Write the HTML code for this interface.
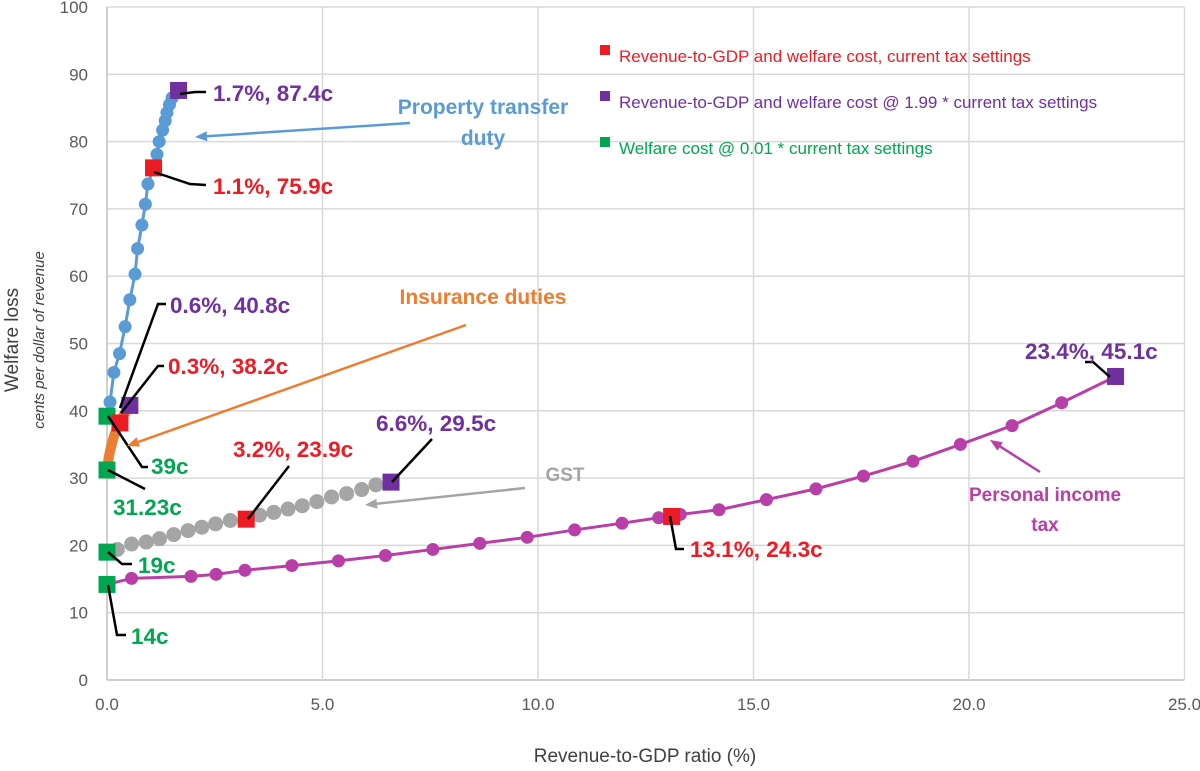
<!DOCTYPE html>
<html><head><meta charset="utf-8"><style>
html,body{margin:0;padding:0;background:#fff;}
svg{display:block;font-family:"Liberation Sans",sans-serif;}
</style></head><body>
<svg id="chart" width="1200" height="771" viewBox="0 0 1200 771">
<g id="grid"></g>
<g id="ticks"></g>
<g id="series"></g>
<g id="ann"></g>
<text x="18" y="340" transform="rotate(-90 18 340)" text-anchor="middle" font-size="19" fill="#404040">Welfare loss</text>
<text x="44" y="340" transform="rotate(-90 44 340)" text-anchor="middle" font-size="15" font-style="italic" fill="#404040">cents per dollar of revenue</text>
<text x="645" y="762" text-anchor="middle" font-size="19" fill="#404040">Revenue-to-GDP ratio (%)</text>
<g>
<rect x="600" y="45" width="10" height="10" fill="#ed1c24"/>
<text x="619" y="62" font-size="17" fill="#ed1c24">Revenue-to-GDP and welfare cost, current tax settings</text>
<rect x="600" y="91" width="10" height="10" fill="#7030a0"/>
<text x="619" y="108" font-size="17" fill="#7030a0">Revenue-to-GDP and welfare cost @ 1.99 * current tax settings</text>
<rect x="600" y="137" width="10" height="10" fill="#00a651"/>
<text x="619" y="154" font-size="17" fill="#00a651">Welfare cost @ 0.01 * current tax settings</text>
</g>
</svg>
<script>
const xTicks=[0,5,10,15,20,25];
const xTickLabels=["0.0","5.0","10.0","15.0","20.0","25.0"];
const yTicks=[0,10,20,30,40,50,60,70,80,90,100];
const ptdX=[0.07,0.16,0.29,0.42,0.53,0.65,0.71,0.81,0.89,0.95,1.08,1.16,1.21,1.29,1.35,1.39,1.45,1.51,1.66];
const ptdY=[41.3,45.7,48.5,52.5,56.5,60.3,64.1,67.6,70.7,73.7,76.1,78.1,80,81.7,83.1,84.3,85.5,86.5,87.6];
const insX=[0,0.02,0.04,0.07,0.1,0.13,0.16,0.2,0.24,0.28,0.33,0.38,0.43,0.48,0.53];
const insY=[31.2,32.2,33.1,34.0,34.8,35.5,36.2,36.9,37.5,38.1,38.7,39.3,39.8,40.3,40.8];
const gstX=[0.24,0.57,0.91,1.22,1.55,1.88,2.2,2.52,2.86,3.23,3.54,3.87,4.2,4.53,4.87,5.21,5.56,5.91,6.24,6.59];
const gstY=[19.4,20.2,20.5,21.0,21.6,22.2,22.7,23.2,23.7,23.9,24.5,24.9,25.4,25.9,26.5,27.2,27.7,28.3,29.0,29.4];
const pitX=[0,0.57,1.95,2.53,3.2,4.29,5.37,6.46,7.56,8.65,9.75,10.85,11.95,12.8,13.1,13.3,14.2,15.3,16.45,17.55,18.7,19.8,21.0,22.15,23.4];
const pitY=[14.2,15.1,15.4,15.7,16.3,17.0,17.7,18.5,19.4,20.3,21.2,22.3,23.3,24.1,24.3,24.6,25.3,26.8,28.4,30.3,32.5,35.0,37.8,41.2,45.1];
const redX=[1.08,0.3,3.23,13.1];const redY=[76.1,38.2,23.9,24.3];
const purX=[1.66,0.53,6.59,23.4];const purY=[87.6,40.8,29.4,45.1];
const grnX=[0,0,0,0];const grnY=[39.2,31.2,19,14.2];

const X=v=>107+v*43.1, Y=v=>680-v*6.73;
const NS="http://www.w3.org/2000/svg";
function mk(parent,tag,attrs){const e=document.createElementNS(NS,tag);for(const k in attrs)e.setAttribute(k,attrs[k]);document.getElementById(parent).appendChild(e);return e;}
const GRID="#d9d9d9";
yTicks.forEach(t=>{
  const l=mk('grid','line',{x1:X(0),x2:X(25),y1:Y(t),y2:Y(t),stroke:t===0?"#bfbfbf":GRID,'stroke-width':1.5});
  
  
  const tx=mk('ticks','text',{x:88,y:Y(t)+6,'text-anchor':'end','font-size':17,fill:'#595959'});tx.textContent=t;
  
  
});
xTicks.forEach((t,i)=>{
  const l=mk('grid','line',{x1:X(t),x2:X(t),y1:Y(0),y2:Y(100),stroke:t===0?"#bfbfbf":GRID,'stroke-width':1.5});
  
  
  const tx=mk('ticks','text',{x:X(t),y:710,'text-anchor':'middle','font-size':17,fill:'#595959'});tx.textContent=xTickLabels[i];
  
  
});
function series(name,xs,ys,col,lw,r,line){
  if(line){const p=mk('series','polyline',{points:xs.map((x,i)=>X(x)+','+Y(ys[i])).join(' '),fill:'none',stroke:col,'stroke-width':lw,'stroke-linejoin':'round'});
  
  }
  if(r>0)xs.forEach((x,i)=>{const c=mk('series','circle',{cx:X(x),cy:Y(ys[i]),r:r,fill:col});
  
  });
}
series('ptd',ptdX,ptdY,'#5b9bd5',3,6.5,true);
series('insurance',insX,insY,'#ed7d31',10,0,true);
series('gst',gstX,gstY,'#a5a5a5',2,7.5,false);
series('pit',pitX,pitY,'#b83fa8',3,6.5,true);
function squares(name,xs,ys,col){xs.forEach((x,i)=>{const s=mk('series','rect',{x:X(x)-8.5,y:Y(ys[i])-8.5,width:17,height:17,fill:col});

});}
squares('green',grnX,grnY,'#00a651');
squares('red',redX,redY,'#ed1c24');
squares('purple',purX,purY,'#7030a0');

function lead(pts){const p=mk('ann','polyline',{points:pts,fill:'none',stroke:'#000','stroke-width':2.5});

}
function lbl(x,y,t,col,name,size,anchor){const e=mk('ann','text',{x:x,y:y,'font-size':size||22.5,'font-weight':'bold',fill:col,'text-anchor':anchor||'start'});e.textContent=t;

}
function arrow(x1,y1,x2,y2,col){const a=Math.atan2(y2-y1,x2-x1),L=12,W=5;
const l=mk('ann','line',{x1:x1,y1:y1,x2:x2-Math.cos(a)*8,y2:y2-Math.sin(a)*8,stroke:col,'stroke-width':2.5});


const p=mk('ann','polygon',{points:`${x2},${y2} ${x2-L*Math.cos(a)+W*Math.sin(a)},${y2-L*Math.sin(a)-W*Math.cos(a)} ${x2-L*Math.cos(a)-W*Math.sin(a)},${y2-L*Math.sin(a)+W*Math.cos(a)}`,fill:col});

}
const PUR='#7030a0',RED='#ed1c24',GRN='#00a651';
lead('180,94 195,92 206,92');lbl(213,101,'1.7%, 87.4c',PUR,'label-ptd-199');
lead('154,172 190,184 206,185');lbl(213,194,'1.1%, 75.9c',RED,'label-ptd-current');
lead('120,408 158,304 166,304');lbl(170,313,'0.6%, 40.8c',PUR,'label-ins-199');
lead('121,413 158,366 164,366');lbl(168,374,'0.3%, 38.2c',RED,'label-ins-current');
lead('108,416 142,467 148,467');lbl(151,474,'39c',GRN,'label-ins-001');
lead('108,470 145,489');lbl(113,515,'31.23c',GRN,'label-ins-001-low');
lead('248,519 289,466');lbl(233,457,'3.2%, 23.9c',RED,'label-gst-current');
lead('392,482 432,439');lbl(376,431,'6.6%, 29.5c',PUR,'label-gst-199');
lead('108,552 122,564 132,564');lbl(138,573,'19c',GRN,'label-gst-001');
lead('108,585 117,635 126,635');lbl(131,644,'14c',GRN,'label-pit-001');
lead('670,516 676,549 684,549');lbl(690,557,'13.1%, 24.3c',RED,'label-pit-current');
lead('1110,377 1093,362 1085,362');lbl(1025,359,'23.4%, 45.1c',PUR,'label-pit-199');
arrow(410,123,195,137,'#5b9bd5');
lbl(483,114,'Property transfer','#5b9bd5','ptd-title',21,'middle');
lbl(483,145,'duty','#5b9bd5','ptd-title-2',21,'middle');
arrow(466,325,127,446,'#ed7d31');
lbl(483,304,'Insurance duties','#ed7d31','insurance-title',21,'middle');
arrow(525,488,365,505,'#a5a5a5');
lbl(565,481,'GST','#a5a5a5','gst-title',19,'middle');
arrow(1040,472,990,440,'#b83fa8');
lbl(1045,501,'Personal income','#b83fa8','pit-title',19,'middle');
lbl(1045,531,'tax','#b83fa8','pit-title-2',19,'middle');
</script>
</body></html>
